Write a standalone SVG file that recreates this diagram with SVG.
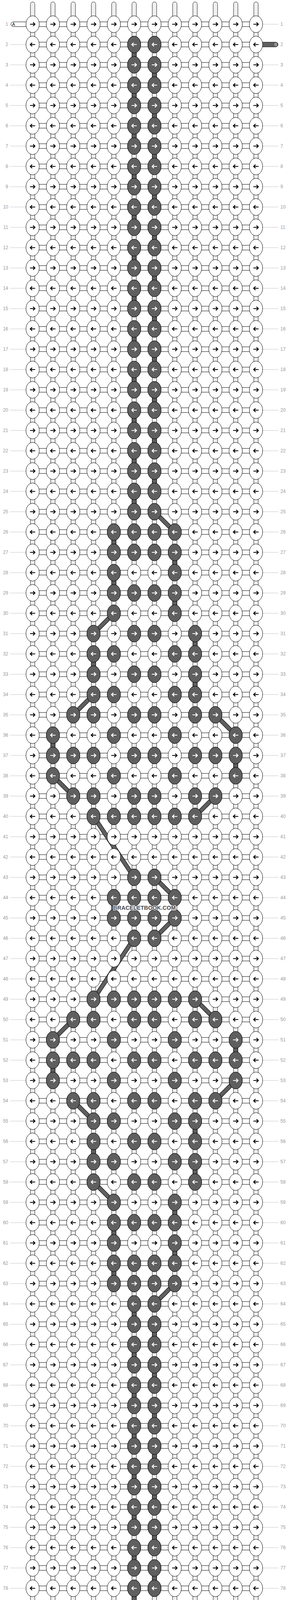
<svg xmlns="http://www.w3.org/2000/svg" width="740" height="4648" viewBox="0 0 740 4648">
<style>
.st{fill:#fff;stroke:#000;stroke-width:1}
.gl{fill:none;stroke:#bdbdbd;stroke-width:0.8}
.kw{fill:#fff;stroke:#000;stroke-width:1}
.kd{fill:#5f5f5f;stroke:#000;stroke-width:1}
.ab{fill:none;stroke:#000;stroke-width:2.2}
.aw{fill:none;stroke:#fff;stroke-width:2.2}
.dc{fill:#5f5f5f;stroke:#000;stroke-width:1}
.lab{font-family:"Liberation Sans",Arial,sans-serif;font-size:12px;fill:#9a9a9a}
.ll{fill:none;stroke:#c4c4c4;stroke-width:1}
.tl{font-family:"Liberation Sans",Arial,sans-serif;font-size:11px}
.wm{font-family:"Liberation Sans",Arial,sans-serif;font-size:14.5px;font-weight:bold;fill:#4a4a4a;stroke:#fff;stroke-width:2.5;paint-order:stroke;text-anchor:middle}
</style>
<defs>
<g id="v"><rect class="st" x="-5.5" y="18" width="11" height="16"/><path class="gl" d="M-1.75,18V34M1.75,18V34"/></g>
<rect id="h" class="st" x="15" y="-6" width="22" height="12"/>
<g id="ch"><use href="#h" x="83.5"/><use href="#h" x="135.5"/><use href="#h" x="187.5"/><use href="#h" x="239.5"/><use href="#h" x="291.5"/><use href="#h" x="343.5"/><use href="#h" x="395.5"/><use href="#h" x="447.5"/><use href="#h" x="499.5"/><use href="#h" x="551.5"/><use href="#h" x="603.5"/></g>
<g id="cv"><use href="#v" x="83.5"/><use href="#v" x="135.5"/><use href="#v" x="187.5"/><use href="#v" x="239.5"/><use href="#v" x="291.5"/><use href="#v" x="343.5"/><use href="#v" x="395.5"/><use href="#v" x="447.5"/><use href="#v" x="499.5"/><use href="#v" x="551.5"/><use href="#v" x="603.5"/><use href="#v" x="655.5"/></g>
<g id="cr"><use href="#ch"/><use href="#cv"/></g>
<path id="ar" d="M-6.7,0H5.6M1.2,-4.6L6,0L1.2,4.6"/>
<g id="kr"><ellipse class="kw" rx="17" ry="21.5"/><use href="#ar" class="ab"/></g>
<g id="kl"><ellipse class="kw" rx="17" ry="21.5"/><use href="#ar" class="ab" transform="scale(-1,1)"/></g>
<g id="dr"><ellipse class="kd" rx="17" ry="21.5"/><use href="#ar" class="aw"/></g>
<g id="dl"><ellipse class="kd" rx="17" ry="21.5"/><use href="#ar" class="aw" transform="scale(-1,1)"/></g>
<g id="rr"><use href="#kr" x="83.5"/><use href="#kr" x="135.5"/><use href="#kr" x="187.5"/><use href="#kr" x="239.5"/><use href="#kr" x="291.5"/><use href="#kr" x="343.5"/><use href="#kr" x="395.5"/><use href="#kr" x="447.5"/><use href="#kr" x="499.5"/><use href="#kr" x="551.5"/><use href="#kr" x="603.5"/><use href="#kr" x="655.5"/></g>
<g id="rl"><use href="#kl" x="83.5"/><use href="#kl" x="135.5"/><use href="#kl" x="187.5"/><use href="#kl" x="239.5"/><use href="#kl" x="291.5"/><use href="#kl" x="343.5"/><use href="#kl" x="395.5"/><use href="#kl" x="447.5"/><use href="#kl" x="499.5"/><use href="#kl" x="551.5"/><use href="#kl" x="603.5"/><use href="#kl" x="655.5"/></g>
<g id="pr"><use href="#dr" x="343.5"/><use href="#dr" x="395.5"/></g>
<g id="pl"><use href="#dl" x="343.5"/><use href="#dl" x="395.5"/></g>
<g id="t"><path class="st" d="M-5.5,44V10.5A5.5,5.5 0 0 1 5.5,10.5V44Z"/><path class="gl" d="M-1.75,7V44M1.75,7V44"/></g>
<g id="b"><path class="st" d="M-5.5,0V33.5A5.5,5.5 0 0 0 5.5,33.5V0Z"/><path class="gl" d="M-1.75,0V37M1.75,0V37"/></g>
<path id="dg" d="M395.5,1310L447.5,1362M291.5,1570L239.5,1622M239.5,1778L187.5,1830M551.5,1830L603.5,1882M135.5,1986L187.5,2038M551.5,2038L499.5,2090M239.5,2090L343.5,2246M395.5,2246L447.5,2298M447.5,2350L395.5,2402M343.5,2402L239.5,2558M499.5,2558L551.5,2610M187.5,2610L135.5,2662M603.5,2766L551.5,2818M187.5,2818L239.5,2870M239.5,3026L291.5,3078M447.5,3286L395.5,3338"/>
</defs>
<rect width="740" height="4648" fill="#fff"/>
<g id="row-lines">
<path class="ll" d="M26,114h40.5M26,166h40.5M26,218h40.5M26,270h40.5M26,322h40.5M26,374h40.5M26,426h40.5M26,478h40.5M26,530h40.5M26,582h40.5M26,634h40.5M26,686h40.5M26,738h40.5M26,790h40.5M26,842h40.5M26,894h40.5M26,946h40.5M26,998h40.5M26,1050h40.5M26,1102h40.5M26,1154h40.5M26,1206h40.5M26,1258h40.5M26,1310h40.5M26,1362h40.5M26,1414h40.5M26,1466h40.5M26,1518h40.5M26,1570h40.5M26,1622h40.5M26,1674h40.5M26,1726h40.5M26,1778h40.5M26,1830h40.5M26,1882h40.5M26,1934h40.5M26,1986h40.5M26,2038h40.5M26,2090h40.5M26,2142h40.5M26,2194h40.5M26,2246h40.5M26,2298h40.5M26,2350h40.5M26,2402h40.5M26,2454h40.5M26,2506h40.5M26,2558h40.5M26,2610h40.5M26,2662h40.5M26,2714h40.5M26,2766h40.5M26,2818h40.5M26,2870h40.5M26,2922h40.5M26,2974h40.5M26,3026h40.5M26,3078h40.5M26,3130h40.5M26,3182h40.5M26,3234h40.5M26,3286h40.5M26,3338h40.5M26,3390h40.5M26,3442h40.5M26,3494h40.5M26,3546h40.5M26,3598h40.5M26,3650h40.5M26,3702h40.5M26,3754h40.5M26,3806h40.5M26,3858h40.5M26,3910h40.5M26,3962h40.5M26,4014h40.5M26,4066h40.5M26,4118h40.5M26,4170h40.5M26,4222h40.5M26,4274h40.5M26,4326h40.5M26,4378h40.5M26,4430h40.5M26,4482h40.5M26,4534h40.5"/>
<path class="ll" d="M672.5,62h40.5M672.5,166h40.5M672.5,218h40.5M672.5,270h40.5M672.5,322h40.5M672.5,374h40.5M672.5,426h40.5M672.5,478h40.5M672.5,530h40.5M672.5,582h40.5M672.5,634h40.5M672.5,686h40.5M672.5,738h40.5M672.5,790h40.5M672.5,842h40.5M672.5,894h40.5M672.5,946h40.5M672.5,998h40.5M672.5,1050h40.5M672.5,1102h40.5M672.5,1154h40.5M672.5,1206h40.5M672.5,1258h40.5M672.5,1310h40.5M672.5,1362h40.5M672.5,1414h40.5M672.5,1466h40.5M672.5,1518h40.5M672.5,1570h40.5M672.5,1622h40.5M672.5,1674h40.5M672.5,1726h40.5M672.5,1778h40.5M672.5,1830h40.5M672.5,1882h40.5M672.5,1934h40.5M672.5,1986h40.5M672.5,2038h40.5M672.5,2090h40.5M672.5,2142h40.5M672.5,2194h40.5M672.5,2246h40.5M672.5,2298h40.5M672.5,2350h40.5M672.5,2402h40.5M672.5,2454h40.5M672.5,2506h40.5M672.5,2558h40.5M672.5,2610h40.5M672.5,2662h40.5M672.5,2714h40.5M672.5,2766h40.5M672.5,2818h40.5M672.5,2870h40.5M672.5,2922h40.5M672.5,2974h40.5M672.5,3026h40.5M672.5,3078h40.5M672.5,3130h40.5M672.5,3182h40.5M672.5,3234h40.5M672.5,3286h40.5M672.5,3338h40.5M672.5,3390h40.5M672.5,3442h40.5M672.5,3494h40.5M672.5,3546h40.5M672.5,3598h40.5M672.5,3650h40.5M672.5,3702h40.5M672.5,3754h40.5M672.5,3806h40.5M672.5,3858h40.5M672.5,3910h40.5M672.5,3962h40.5M672.5,4014h40.5M672.5,4066h40.5M672.5,4118h40.5M672.5,4170h40.5M672.5,4222h40.5M672.5,4274h40.5M672.5,4326h40.5M672.5,4378h40.5M672.5,4430h40.5M672.5,4482h40.5M672.5,4586h40.5"/>
</g>
<g id="labels-left" class="lab" text-anchor="end">
<text x="21" y="66">1</text><text x="21" y="118">2</text><text x="21" y="170">3</text><text x="21" y="222">4</text><text x="21" y="274">5</text><text x="21" y="326">6</text><text x="21" y="378">7</text><text x="21" y="430">8</text><text x="21" y="482">9</text><text x="21" y="534">10</text><text x="21" y="586">11</text><text x="21" y="638">12</text><text x="21" y="690">13</text><text x="21" y="742">14</text><text x="21" y="794">15</text><text x="21" y="846">16</text><text x="21" y="898">17</text><text x="21" y="950">18</text><text x="21" y="1002">19</text><text x="21" y="1054">20</text><text x="21" y="1106">21</text><text x="21" y="1158">22</text><text x="21" y="1210">23</text><text x="21" y="1262">24</text><text x="21" y="1314">25</text><text x="21" y="1366">26</text><text x="21" y="1418">27</text><text x="21" y="1470">28</text><text x="21" y="1522">29</text><text x="21" y="1574">30</text><text x="21" y="1626">31</text><text x="21" y="1678">32</text><text x="21" y="1730">33</text><text x="21" y="1782">34</text><text x="21" y="1834">35</text><text x="21" y="1886">36</text><text x="21" y="1938">37</text><text x="21" y="1990">38</text><text x="21" y="2042">39</text><text x="21" y="2094">40</text><text x="21" y="2146">41</text><text x="21" y="2198">42</text><text x="21" y="2250">43</text><text x="21" y="2302">44</text><text x="21" y="2354">45</text><text x="21" y="2406">46</text><text x="21" y="2458">47</text><text x="21" y="2510">48</text><text x="21" y="2562">49</text><text x="21" y="2614">50</text><text x="21" y="2666">51</text><text x="21" y="2718">52</text><text x="21" y="2770">53</text><text x="21" y="2822">54</text><text x="21" y="2874">55</text><text x="21" y="2926">56</text><text x="21" y="2978">57</text><text x="21" y="3030">58</text><text x="21" y="3082">59</text><text x="21" y="3134">60</text><text x="21" y="3186">61</text><text x="21" y="3238">62</text><text x="21" y="3290">63</text><text x="21" y="3342">64</text><text x="21" y="3394">65</text><text x="21" y="3446">66</text><text x="21" y="3498">67</text><text x="21" y="3550">68</text><text x="21" y="3602">69</text><text x="21" y="3654">70</text><text x="21" y="3706">71</text><text x="21" y="3758">72</text><text x="21" y="3810">73</text><text x="21" y="3862">74</text><text x="21" y="3914">75</text><text x="21" y="3966">76</text><text x="21" y="4018">77</text><text x="21" y="4070">78</text><text x="21" y="4122">79</text><text x="21" y="4174">80</text><text x="21" y="4226">81</text><text x="21" y="4278">82</text><text x="21" y="4330">83</text><text x="21" y="4382">84</text><text x="21" y="4434">85</text><text x="21" y="4486">86</text><text x="21" y="4538">87</text><text x="21" y="4590">88</text>
</g>
<g id="labels-right" class="lab">
<text x="718" y="66">1</text><text x="718" y="118">2</text><text x="718" y="170">3</text><text x="718" y="222">4</text><text x="718" y="274">5</text><text x="718" y="326">6</text><text x="718" y="378">7</text><text x="718" y="430">8</text><text x="718" y="482">9</text><text x="718" y="534">10</text><text x="718" y="586">11</text><text x="718" y="638">12</text><text x="718" y="690">13</text><text x="718" y="742">14</text><text x="718" y="794">15</text><text x="718" y="846">16</text><text x="718" y="898">17</text><text x="718" y="950">18</text><text x="718" y="1002">19</text><text x="718" y="1054">20</text><text x="718" y="1106">21</text><text x="718" y="1158">22</text><text x="718" y="1210">23</text><text x="718" y="1262">24</text><text x="718" y="1314">25</text><text x="718" y="1366">26</text><text x="718" y="1418">27</text><text x="718" y="1470">28</text><text x="718" y="1522">29</text><text x="718" y="1574">30</text><text x="718" y="1626">31</text><text x="718" y="1678">32</text><text x="718" y="1730">33</text><text x="718" y="1782">34</text><text x="718" y="1834">35</text><text x="718" y="1886">36</text><text x="718" y="1938">37</text><text x="718" y="1990">38</text><text x="718" y="2042">39</text><text x="718" y="2094">40</text><text x="718" y="2146">41</text><text x="718" y="2198">42</text><text x="718" y="2250">43</text><text x="718" y="2302">44</text><text x="718" y="2354">45</text><text x="718" y="2406">46</text><text x="718" y="2458">47</text><text x="718" y="2510">48</text><text x="718" y="2562">49</text><text x="718" y="2614">50</text><text x="718" y="2666">51</text><text x="718" y="2718">52</text><text x="718" y="2770">53</text><text x="718" y="2822">54</text><text x="718" y="2874">55</text><text x="718" y="2926">56</text><text x="718" y="2978">57</text><text x="718" y="3030">58</text><text x="718" y="3082">59</text><text x="718" y="3134">60</text><text x="718" y="3186">61</text><text x="718" y="3238">62</text><text x="718" y="3290">63</text><text x="718" y="3342">64</text><text x="718" y="3394">65</text><text x="718" y="3446">66</text><text x="718" y="3498">67</text><text x="718" y="3550">68</text><text x="718" y="3602">69</text><text x="718" y="3654">70</text><text x="718" y="3706">71</text><text x="718" y="3758">72</text><text x="718" y="3810">73</text><text x="718" y="3862">74</text><text x="718" y="3914">75</text><text x="718" y="3966">76</text><text x="718" y="4018">77</text><text x="718" y="4070">78</text><text x="718" y="4122">79</text><text x="718" y="4174">80</text><text x="718" y="4226">81</text><text x="718" y="4278">82</text><text x="718" y="4330">83</text><text x="718" y="4382">84</text><text x="718" y="4434">85</text><text x="718" y="4486">86</text><text x="718" y="4538">87</text><text x="718" y="4590">88</text>
</g>
<g id="connectors">
<g id="strands-top"><use href="#t" x="83.5"/><use href="#t" x="135.5"/><use href="#t" x="187.5"/><use href="#t" x="239.5"/><use href="#t" x="291.5"/><use href="#t" x="343.5"/><use href="#t" x="395.5"/><use href="#t" x="447.5"/><use href="#t" x="499.5"/><use href="#t" x="551.5"/><use href="#t" x="603.5"/><use href="#t" x="655.5"/></g>
<g id="row-connectors">
<use href="#cr" y="62"/><use href="#cr" y="114"/><use href="#cr" y="166"/><use href="#cr" y="218"/><use href="#cr" y="270"/><use href="#cr" y="322"/><use href="#cr" y="374"/><use href="#cr" y="426"/><use href="#cr" y="478"/><use href="#cr" y="530"/><use href="#cr" y="582"/><use href="#cr" y="634"/><use href="#cr" y="686"/><use href="#cr" y="738"/><use href="#cr" y="790"/><use href="#cr" y="842"/><use href="#cr" y="894"/><use href="#cr" y="946"/><use href="#cr" y="998"/><use href="#cr" y="1050"/><use href="#cr" y="1102"/><use href="#cr" y="1154"/><use href="#cr" y="1206"/><use href="#cr" y="1258"/><use href="#cr" y="1310"/><use href="#cr" y="1362"/><use href="#cr" y="1414"/><use href="#cr" y="1466"/><use href="#cr" y="1518"/><use href="#cr" y="1570"/><use href="#cr" y="1622"/><use href="#cr" y="1674"/><use href="#cr" y="1726"/><use href="#cr" y="1778"/><use href="#cr" y="1830"/><use href="#cr" y="1882"/><use href="#cr" y="1934"/><use href="#cr" y="1986"/><use href="#cr" y="2038"/><use href="#cr" y="2090"/><use href="#cr" y="2142"/><use href="#cr" y="2194"/><use href="#cr" y="2246"/><use href="#cr" y="2298"/><use href="#cr" y="2350"/><use href="#cr" y="2402"/><use href="#cr" y="2454"/><use href="#cr" y="2506"/><use href="#cr" y="2558"/><use href="#cr" y="2610"/><use href="#cr" y="2662"/><use href="#cr" y="2714"/><use href="#cr" y="2766"/><use href="#cr" y="2818"/><use href="#cr" y="2870"/><use href="#cr" y="2922"/><use href="#cr" y="2974"/><use href="#cr" y="3026"/><use href="#cr" y="3078"/><use href="#cr" y="3130"/><use href="#cr" y="3182"/><use href="#cr" y="3234"/><use href="#cr" y="3286"/><use href="#cr" y="3338"/><use href="#cr" y="3390"/><use href="#cr" y="3442"/><use href="#cr" y="3494"/><use href="#cr" y="3546"/><use href="#cr" y="3598"/><use href="#cr" y="3650"/><use href="#cr" y="3702"/><use href="#cr" y="3754"/><use href="#cr" y="3806"/><use href="#cr" y="3858"/><use href="#cr" y="3910"/><use href="#cr" y="3962"/><use href="#cr" y="4014"/><use href="#cr" y="4066"/><use href="#cr" y="4118"/><use href="#cr" y="4170"/><use href="#cr" y="4222"/><use href="#cr" y="4274"/><use href="#cr" y="4326"/><use href="#cr" y="4378"/><use href="#cr" y="4430"/><use href="#cr" y="4482"/><use href="#cr" y="4534"/><use href="#ch" y="4586"/>
</g>
<g id="strands-bottom"><use href="#b" x="83.5" y="4604"/><use href="#b" x="135.5" y="4604"/><use href="#b" x="187.5" y="4604"/><use href="#b" x="239.5" y="4604"/><use href="#b" x="291.5" y="4604"/><use href="#b" x="343.5" y="4604"/><use href="#b" x="395.5" y="4604"/><use href="#b" x="447.5" y="4604"/><use href="#b" x="499.5" y="4604"/><use href="#b" x="551.5" y="4604"/><use href="#b" x="603.5" y="4604"/><use href="#b" x="655.5" y="4604"/></g>
<g id="tab-A-start" transform="translate(0,62)"><path class="st" d="M70,-6H34A6,6 0 0 0 34,6H70Z"/><text class="tl" x="31" y="4" fill="#000">A</text></g>
<g id="tab-A-end" transform="translate(0,4586)"><path class="st" d="M70,-6H34A6,6 0 0 0 34,6H70Z"/><text class="tl" x="31" y="4" fill="#000">A</text></g>
<g id="tab-B-start" transform="translate(0,114)"><path class="dc" d="M668,-6H706A6,6 0 0 1 706,6H668Z"/><text class="tl" x="702.5" y="4" fill="#d8d8d8">B</text></g>
<g id="tab-B-end" transform="translate(0,4534)"><path class="dc" d="M668,-6H706A6,6 0 0 1 706,6H668Z"/><text class="tl" x="702.5" y="4" fill="#d8d8d8">B</text></g>
<g id="dark-connectors" class="dc">
<rect x="338" y="132" width="11" height="16"/><rect x="390" y="184" width="11" height="16"/><rect x="338" y="236" width="11" height="16"/><rect x="390" y="288" width="11" height="16"/><rect x="338" y="340" width="11" height="16"/><rect x="390" y="392" width="11" height="16"/><rect x="338" y="444" width="11" height="16"/><rect x="390" y="496" width="11" height="16"/><rect x="338" y="548" width="11" height="16"/><rect x="390" y="600" width="11" height="16"/><rect x="338" y="652" width="11" height="16"/><rect x="390" y="704" width="11" height="16"/><rect x="338" y="756" width="11" height="16"/><rect x="390" y="808" width="11" height="16"/><rect x="338" y="860" width="11" height="16"/><rect x="390" y="912" width="11" height="16"/><rect x="338" y="964" width="11" height="16"/><rect x="390" y="1016" width="11" height="16"/><rect x="338" y="1068" width="11" height="16"/><rect x="390" y="1120" width="11" height="16"/><rect x="338" y="1172" width="11" height="16"/><rect x="390" y="1224" width="11" height="16"/><rect x="338" y="1276" width="11" height="16"/>
<rect x="286" y="1380" width="11" height="16"/><rect x="442" y="1432" width="11" height="16"/><rect x="286" y="1484" width="11" height="16"/><rect x="442" y="1536" width="11" height="16"/><rect x="494" y="1640" width="11" height="16"/><rect x="234" y="1692" width="11" height="16"/><rect x="494" y="1744" width="11" height="16"/><rect x="130" y="1900" width="11" height="16"/><rect x="598" y="1952" width="11" height="16"/><rect x="286" y="2316" width="11" height="16"/><rect x="598" y="2680" width="11" height="16"/><rect x="130" y="2732" width="11" height="16"/><rect x="494" y="2888" width="11" height="16"/><rect x="234" y="2940" width="11" height="16"/><rect x="494" y="2992" width="11" height="16"/><rect x="442" y="3096" width="11" height="16"/><rect x="286" y="3148" width="11" height="16"/><rect x="442" y="3200" width="11" height="16"/><rect x="286" y="3252" width="11" height="16"/>
<rect x="338" y="3356" width="11" height="16"/><rect x="390" y="3408" width="11" height="16"/><rect x="338" y="3460" width="11" height="16"/><rect x="390" y="3512" width="11" height="16"/><rect x="338" y="3564" width="11" height="16"/><rect x="390" y="3616" width="11" height="16"/><rect x="338" y="3668" width="11" height="16"/><rect x="390" y="3720" width="11" height="16"/><rect x="338" y="3772" width="11" height="16"/><rect x="390" y="3824" width="11" height="16"/><rect x="338" y="3876" width="11" height="16"/><rect x="390" y="3928" width="11" height="16"/><rect x="338" y="3980" width="11" height="16"/><rect x="390" y="4032" width="11" height="16"/><rect x="338" y="4084" width="11" height="16"/><rect x="390" y="4136" width="11" height="16"/><rect x="338" y="4188" width="11" height="16"/><rect x="390" y="4240" width="11" height="16"/><rect x="338" y="4292" width="11" height="16"/><rect x="390" y="4344" width="11" height="16"/><rect x="338" y="4396" width="11" height="16"/><rect x="390" y="4448" width="11" height="16"/><rect x="338" y="4500" width="11" height="16"/>
</g>
<g id="diagonals" fill="none">
<use href="#dg" stroke="#000" stroke-width="11"/>
<use href="#dg" stroke="#5f5f5f" stroke-width="9"/>
</g>
</g>
<g id="knots">
<use href="#rr" y="62"/><use href="#rl" y="114"/><use href="#rr" y="166"/><use href="#rl" y="218"/><use href="#rr" y="270"/><use href="#rl" y="322"/><use href="#rr" y="374"/><use href="#rl" y="426"/><use href="#rr" y="478"/><use href="#rl" y="530"/><use href="#rr" y="582"/><use href="#rl" y="634"/><use href="#rr" y="686"/><use href="#rl" y="738"/><use href="#rr" y="790"/><use href="#rl" y="842"/><use href="#rr" y="894"/><use href="#rl" y="946"/><use href="#rr" y="998"/><use href="#rl" y="1050"/><use href="#rr" y="1102"/><use href="#rl" y="1154"/><use href="#rr" y="1206"/><use href="#rl" y="1258"/><use href="#rr" y="1310"/><use href="#rl" y="1362"/><use href="#rr" y="1414"/><use href="#rl" y="1466"/><use href="#rr" y="1518"/><use href="#rl" y="1570"/><use href="#rr" y="1622"/><use href="#rl" y="1674"/><use href="#rr" y="1726"/><use href="#rl" y="1778"/><use href="#rr" y="1830"/><use href="#rl" y="1882"/><use href="#rr" y="1934"/><use href="#rl" y="1986"/><use href="#rr" y="2038"/><use href="#rl" y="2090"/><use href="#rr" y="2142"/><use href="#rl" y="2194"/><use href="#rr" y="2246"/><use href="#rl" y="2298"/><use href="#rr" y="2350"/><use href="#rl" y="2402"/><use href="#rr" y="2454"/><use href="#rl" y="2506"/><use href="#rr" y="2558"/><use href="#rl" y="2610"/><use href="#rr" y="2662"/><use href="#rl" y="2714"/><use href="#rr" y="2766"/><use href="#rl" y="2818"/><use href="#rr" y="2870"/><use href="#rl" y="2922"/><use href="#rr" y="2974"/><use href="#rl" y="3026"/><use href="#rr" y="3078"/><use href="#rl" y="3130"/><use href="#rr" y="3182"/><use href="#rl" y="3234"/><use href="#rr" y="3286"/><use href="#rl" y="3338"/><use href="#rr" y="3390"/><use href="#rl" y="3442"/><use href="#rr" y="3494"/><use href="#rl" y="3546"/><use href="#rr" y="3598"/><use href="#rl" y="3650"/><use href="#rr" y="3702"/><use href="#rl" y="3754"/><use href="#rr" y="3806"/><use href="#rl" y="3858"/><use href="#rr" y="3910"/><use href="#rl" y="3962"/><use href="#rr" y="4014"/><use href="#rl" y="4066"/><use href="#rr" y="4118"/><use href="#rl" y="4170"/><use href="#rr" y="4222"/><use href="#rl" y="4274"/><use href="#rr" y="4326"/><use href="#rl" y="4378"/><use href="#rr" y="4430"/><use href="#rl" y="4482"/><use href="#rr" y="4534"/><use href="#rl" y="4586"/>
</g>
<g id="dark-knots">
<use id="d2" href="#pl" y="114"/><use id="d3" href="#pr" y="166"/><use id="d4" href="#pl" y="218"/><use id="d5" href="#pr" y="270"/><use id="d6" href="#pl" y="322"/><use id="d7" href="#pr" y="374"/><use id="d8" href="#pl" y="426"/><use id="d9" href="#pr" y="478"/><use id="d10" href="#pl" y="530"/><use id="d11" href="#pr" y="582"/><use id="d12" href="#pl" y="634"/><use id="d13" href="#pr" y="686"/><use id="d14" href="#pl" y="738"/><use id="d15" href="#pr" y="790"/><use id="d16" href="#pl" y="842"/><use id="d17" href="#pr" y="894"/><use id="d18" href="#pl" y="946"/><use id="d19" href="#pr" y="998"/><use id="d20" href="#pl" y="1050"/><use id="d21" href="#pr" y="1102"/><use id="d22" href="#pl" y="1154"/><use id="d23" href="#pr" y="1206"/><use id="d24" href="#pl" y="1258"/><use id="d25" href="#pr" y="1310"/>
<g id="d26" transform="translate(0,1362)"><use href="#dl" x="291.5"/><use href="#dl" x="343.5"/><use href="#dl" x="395.5"/><use href="#dl" x="447.5"/></g>
<g id="d27" transform="translate(0,1414)"><use href="#dr" x="291.5"/><use href="#dr" x="343.5"/><use href="#dr" x="395.5"/><use href="#dr" x="447.5"/></g>
<g id="d28" transform="translate(0,1466)"><use href="#dl" x="291.5"/><use href="#dl" x="447.5"/></g>
<g id="d29" transform="translate(0,1518)"><use href="#dr" x="291.5"/><use href="#dr" x="343.5"/><use href="#dr" x="395.5"/><use href="#dr" x="447.5"/></g>
<g id="d30" transform="translate(0,1570)"><use href="#dl" x="291.5"/><use href="#dl" x="447.5"/></g>
<g id="d31" transform="translate(0,1622)"><use href="#dr" x="239.5"/><use href="#dr" x="343.5"/><use href="#dr" x="395.5"/><use href="#dr" x="499.5"/></g>
<g id="d32" transform="translate(0,1674)"><use href="#dl" x="239.5"/><use href="#dl" x="291.5"/><use href="#dl" x="447.5"/><use href="#dl" x="499.5"/></g>
<g id="d33" transform="translate(0,1726)"><use href="#dr" x="239.5"/><use href="#dr" x="343.5"/><use href="#dr" x="395.5"/><use href="#dr" x="499.5"/></g>
<g id="d34" transform="translate(0,1778)"><use href="#dl" x="239.5"/><use href="#dl" x="291.5"/><use href="#dl" x="447.5"/><use href="#dl" x="499.5"/></g>
<g id="d35" transform="translate(0,1830)"><use href="#dr" x="187.5"/><use href="#dr" x="239.5"/><use href="#dr" x="343.5"/><use href="#dr" x="395.5"/><use href="#dr" x="499.5"/><use href="#dr" x="551.5"/></g>
<g id="d36" transform="translate(0,1882)"><use href="#dl" x="135.5"/><use href="#dl" x="291.5"/><use href="#dl" x="447.5"/><use href="#dl" x="603.5"/></g>
<g id="d37" transform="translate(0,1934)"><use href="#dr" x="135.5"/><use href="#dr" x="187.5"/><use href="#dr" x="239.5"/><use href="#dr" x="343.5"/><use href="#dr" x="395.5"/><use href="#dr" x="499.5"/><use href="#dr" x="551.5"/><use href="#dr" x="603.5"/></g>
<g id="d38" transform="translate(0,1986)"><use href="#dl" x="135.5"/><use href="#dl" x="291.5"/><use href="#dl" x="447.5"/><use href="#dl" x="603.5"/></g>
<g id="d39" transform="translate(0,2038)"><use href="#dr" x="187.5"/><use href="#dr" x="239.5"/><use href="#dr" x="343.5"/><use href="#dr" x="395.5"/><use href="#dr" x="499.5"/><use href="#dr" x="551.5"/></g>
<g id="d40" transform="translate(0,2090)"><use href="#dl" x="239.5"/><use href="#dl" x="291.5"/><use href="#dl" x="343.5"/><use href="#dl" x="395.5"/><use href="#dl" x="447.5"/><use href="#dl" x="499.5"/></g>
<use id="d43" href="#pr" y="2246"/>
<g id="d44" transform="translate(0,2298)"><use href="#dl" x="291.5"/><use href="#dl" x="343.5"/><use href="#dl" x="395.5"/><use href="#dl" x="447.5"/></g>
<g id="d45" transform="translate(0,2350)"><use href="#dr" x="291.5"/><use href="#dr" x="343.5"/><use href="#dr" x="395.5"/><use href="#dr" x="447.5"/></g>
<use id="d46" href="#pl" y="2402"/>
<g id="d49" transform="translate(0,2558)"><use href="#dr" x="239.5"/><use href="#dr" x="291.5"/><use href="#dr" x="343.5"/><use href="#dr" x="395.5"/><use href="#dr" x="447.5"/><use href="#dr" x="499.5"/></g>
<g id="d50" transform="translate(0,2610)"><use href="#dl" x="187.5"/><use href="#dl" x="239.5"/><use href="#dl" x="343.5"/><use href="#dl" x="395.5"/><use href="#dl" x="499.5"/><use href="#dl" x="551.5"/></g>
<g id="d51" transform="translate(0,2662)"><use href="#dr" x="135.5"/><use href="#dr" x="291.5"/><use href="#dr" x="447.5"/><use href="#dr" x="603.5"/></g>
<g id="d52" transform="translate(0,2714)"><use href="#dl" x="135.5"/><use href="#dl" x="187.5"/><use href="#dl" x="239.5"/><use href="#dl" x="343.5"/><use href="#dl" x="395.5"/><use href="#dl" x="499.5"/><use href="#dl" x="551.5"/><use href="#dl" x="603.5"/></g>
<g id="d53" transform="translate(0,2766)"><use href="#dr" x="135.5"/><use href="#dr" x="291.5"/><use href="#dr" x="447.5"/><use href="#dr" x="603.5"/></g>
<g id="d54" transform="translate(0,2818)"><use href="#dl" x="187.5"/><use href="#dl" x="239.5"/><use href="#dl" x="343.5"/><use href="#dl" x="395.5"/><use href="#dl" x="499.5"/><use href="#dl" x="551.5"/></g>
<g id="d55" transform="translate(0,2870)"><use href="#dr" x="239.5"/><use href="#dr" x="291.5"/><use href="#dr" x="447.5"/><use href="#dr" x="499.5"/></g>
<g id="d56" transform="translate(0,2922)"><use href="#dl" x="239.5"/><use href="#dl" x="343.5"/><use href="#dl" x="395.5"/><use href="#dl" x="499.5"/></g>
<g id="d57" transform="translate(0,2974)"><use href="#dr" x="239.5"/><use href="#dr" x="291.5"/><use href="#dr" x="447.5"/><use href="#dr" x="499.5"/></g>
<g id="d58" transform="translate(0,3026)"><use href="#dl" x="239.5"/><use href="#dl" x="343.5"/><use href="#dl" x="395.5"/><use href="#dl" x="499.5"/></g>
<g id="d59" transform="translate(0,3078)"><use href="#dr" x="291.5"/><use href="#dr" x="447.5"/></g>
<g id="d60" transform="translate(0,3130)"><use href="#dl" x="291.5"/><use href="#dl" x="343.5"/><use href="#dl" x="395.5"/><use href="#dl" x="447.5"/></g>
<g id="d61" transform="translate(0,3182)"><use href="#dr" x="291.5"/><use href="#dr" x="447.5"/></g>
<g id="d62" transform="translate(0,3234)"><use href="#dl" x="291.5"/><use href="#dl" x="343.5"/><use href="#dl" x="395.5"/><use href="#dl" x="447.5"/></g>
<g id="d63" transform="translate(0,3286)"><use href="#dr" x="291.5"/><use href="#dr" x="343.5"/><use href="#dr" x="395.5"/><use href="#dr" x="447.5"/></g>
<use id="d64" href="#pl" y="3338"/><use id="d65" href="#pr" y="3390"/><use id="d66" href="#pl" y="3442"/><use id="d67" href="#pr" y="3494"/><use id="d68" href="#pl" y="3546"/><use id="d69" href="#pr" y="3598"/><use id="d70" href="#pl" y="3650"/><use id="d71" href="#pr" y="3702"/><use id="d72" href="#pl" y="3754"/><use id="d73" href="#pr" y="3806"/><use id="d74" href="#pl" y="3858"/><use id="d75" href="#pr" y="3910"/><use id="d76" href="#pl" y="3962"/><use id="d77" href="#pr" y="4014"/><use id="d78" href="#pl" y="4066"/><use id="d79" href="#pr" y="4118"/><use id="d80" href="#pl" y="4170"/><use id="d81" href="#pr" y="4222"/><use id="d82" href="#pl" y="4274"/><use id="d83" href="#pr" y="4326"/><use id="d84" href="#pl" y="4378"/><use id="d85" href="#pr" y="4430"/><use id="d86" href="#pl" y="4482"/><use id="d87" href="#pr" y="4534"/>
</g>
<text id="watermark" class="wm" x="370" y="2328.5">BRACELETBOOK.COM</text>
</svg>
